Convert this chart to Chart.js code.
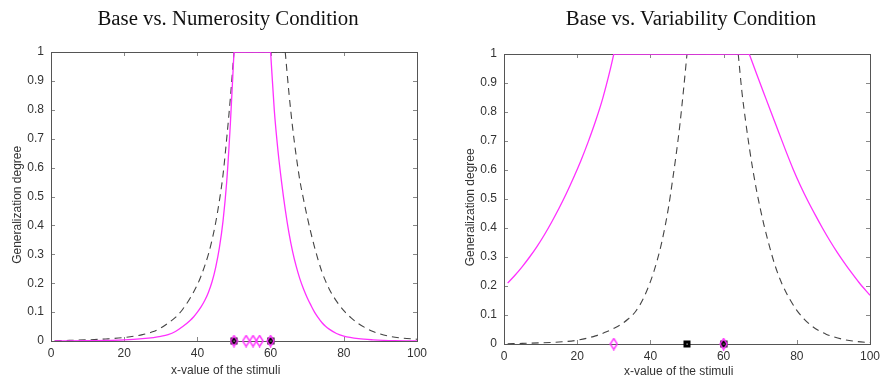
<!DOCTYPE html>
<html>
<head>
<meta charset="utf-8">
<script src="https://cdn.jsdelivr.net/npm/chart.js@4"></script>
<style>
  body { margin: 0; background: #fff; }
  #wrap { position: relative; width: 880px; height: 381px; }
  canvas { position: absolute; top: 0; }
  .title { position: absolute; top: 8px; width: 440px; text-align: center;
           font-family: "Liberation Serif", "Times New Roman", serif; font-size: 20.8px; line-height: 20px; color: #111; }
</style>
</head>
<body>
<div id="wrap">
  <canvas id="numChart" width="440" height="381" style="left:0"></canvas>
  <canvas id="varChart" width="440" height="381" style="left:440px"></canvas>
  <div class="title" style="left:8px">Base vs. Numerosity Condition</div>
  <div class="title" style="left:471px">Base vs. Variability Condition</div>
</div>
<script>
// axis ticks
var xTicks = [0, 20, 40, 60, 80, 100];
var yTicks = [0, 0.1, 0.2, 0.3, 0.4, 0.5, 0.6, 0.7, 0.8, 0.9, 1];
var yTickLabels = ['0', '0.1', '0.2', '0.3', '0.4', '0.5', '0.6', '0.7', '0.8', '0.9', '1'];

// left panel: base (dashed) vs numerosity (magenta)
var baseX = [1, 5, 10, 15, 20, 25, 28, 30, 32, 34, 36, 38, 40, 41, 42, 43, 44, 45, 46, 47, 48, 49, 50,
             64, 65, 66, 67, 68, 69, 70, 71, 72, 73, 74, 75, 76, 78, 80, 82, 84, 86, 88, 90, 93, 96, 100];
var baseY = [0.001, 0.002, 0.004, 0.007, 0.012, 0.022, 0.033, 0.045, 0.062, 0.082, 0.11, 0.148, 0.195, 0.225, 0.26, 0.3, 0.35, 0.41, 0.485, 0.575, 0.7, 0.84, 1,
             1, 0.86, 0.74, 0.64, 0.555, 0.49, 0.43, 0.375, 0.325, 0.28, 0.24, 0.208, 0.18, 0.138, 0.105, 0.08, 0.06, 0.045, 0.033, 0.024, 0.015, 0.01, 0.006];
var numX = [1, 10, 20, 25, 28, 30, 32, 34, 36, 38, 39, 40, 41, 42, 43, 44, 45, 46, 47, 48, 49, 50,
            60, 61, 62, 63, 64, 65, 66, 67, 68, 69, 70, 71, 72, 73, 74, 75, 76, 78, 80, 84, 88, 94, 100];
var numY = [0, 0.001, 0.004, 0.008, 0.012, 0.016, 0.022, 0.033, 0.05, 0.071, 0.084, 0.1, 0.118, 0.14, 0.168, 0.205, 0.255, 0.322, 0.415, 0.55, 0.75, 1,
            1, 0.8, 0.66, 0.55, 0.455, 0.375, 0.31, 0.258, 0.215, 0.18, 0.15, 0.124, 0.1, 0.081, 0.064, 0.051, 0.041, 0.026, 0.017, 0.008, 0.004, 0.001, 0];
var baseStimLeft = [50, 60];
var numStim = [50, 53.3, 55.2, 57, 60];

// right panel: base (dashed) vs variability (magenta)
var base2X = [1, 5, 10, 15, 20, 25, 28, 30, 32, 34, 36, 38, 40, 41, 42, 43, 44, 45, 46, 47, 48, 49, 50,
              64, 65, 66, 67, 68, 69, 70, 71, 72, 73, 74, 75, 76, 78, 80, 82, 84, 86, 88, 90, 93, 96, 100];
var base2Y = [0.001, 0.002, 0.004, 0.007, 0.013, 0.028, 0.042, 0.054, 0.068, 0.087, 0.113, 0.155, 0.215, 0.252, 0.295, 0.345, 0.405, 0.475, 0.56, 0.65, 0.75, 0.87, 1,
              1, 0.87, 0.77, 0.68, 0.6, 0.53, 0.468, 0.412, 0.362, 0.315, 0.273, 0.237, 0.206, 0.156, 0.116, 0.086, 0.063, 0.046, 0.034, 0.025, 0.015, 0.009, 0.005];
var varX = [1, 3, 5, 7, 9, 11, 13, 15, 17, 19, 21, 23, 25, 27, 29, 30,
            67, 69, 71, 73, 75, 77, 79, 81, 83, 85, 87, 89, 91, 93, 95, 97, 100];
var varY = [0.21, 0.237, 0.267, 0.3, 0.336, 0.376, 0.42, 0.467, 0.518, 0.573, 0.632, 0.697, 0.768, 0.848, 0.945, 1,
            1, 0.932, 0.865, 0.798, 0.732, 0.666, 0.603, 0.546, 0.494, 0.446, 0.4, 0.357, 0.317, 0.28, 0.245, 0.212, 0.168];
var baseStimRight = [50, 60];
var varStim = [30, 60];

var MAGENTA = '#ff30ff';
var DASH = '#444444';

function onAxis(xs) {
    return xs.map(function(v) { return { x: v, y: 0 }; });
}

// split a curve into rising flank, flat top and falling flank so the
// smoothing does not round off the corners of the plateau
function splitCurve(xs, ys) {
    var first = ys.indexOf(1), last = ys.lastIndexOf(1);
    var p = xs.map(function(v, i) { return { x: v, y: ys[i] }; });
    return [p.slice(0, first + 1), [p[first], p[last]], p.slice(last)];
}

// point markers drawn on small canvases
function diamondMark() {
    var c = document.createElement('canvas');
    c.width = 9; c.height = 13;
    var g = c.getContext('2d');
    g.strokeStyle = MAGENTA;
    g.lineWidth = 1.4;
    g.beginPath();
    g.moveTo(4.5, 1); g.lineTo(8, 6.5); g.lineTo(4.5, 12); g.lineTo(1, 6.5); g.closePath();
    g.stroke();
    return c;
}
function squareMark() {
    var c = document.createElement('canvas');
    c.width = 8; c.height = 8;
    var g = c.getContext('2d');
    g.fillStyle = '#000';
    g.fillRect(0.5, 0.5, 7, 7);
    g.fillStyle = '#ccc';
    g.fillRect(3.5, 3.5, 1.2, 1.2);
    return c;
}
var diamondImg = diamondMark();
var squareImg = squareMark();

var framePlugin = {
    id: 'frame',
    beforeDatasetsDraw: function(chart) {
        var ctx = chart.ctx, a = chart.chartArea;
        var xs = chart.scales.x, ys = chart.scales.y;
        ctx.save();
        ctx.strokeStyle = '#888';
        ctx.lineWidth = 1;
        ctx.beginPath();
        xs.ticks.forEach(function(t) {
            var px = Math.round(xs.getPixelForValue(t.value)) + 0.5;
            ctx.moveTo(px, a.bottom); ctx.lineTo(px, a.bottom - 4);
            ctx.moveTo(px, a.top); ctx.lineTo(px, a.top + 4);
        });
        ys.ticks.forEach(function(t) {
            var py = Math.round(ys.getPixelForValue(t.value)) + 0.5;
            ctx.moveTo(a.left, py); ctx.lineTo(a.left + 4, py);
            ctx.moveTo(a.right, py); ctx.lineTo(a.right - 4, py);
        });
        ctx.stroke();
        ctx.strokeStyle = '#555';
        ctx.strokeRect(a.left + 0.5, a.top + 0.5, a.right - a.left, a.bottom - a.top);
        ctx.restore();
    }
};

function lineSets(parts, style, order) {
    return parts.map(function(d) {
        return Object.assign({ data: d, pointRadius: 0, fill: false, order: order,
                               cubicInterpolationMode: 'monotone' }, style);
    });
}

// trailing spaces nudge the axis titles off-centre like in the original
var xTitle = 'x-value of the stimuli     ';
var yTitle = 'Generalization degree     ';

function makeChart(id, lay, solid, dashed, squares, diamonds) {
    var tickFont = { family: '"Liberation Sans", Arial, sans-serif', size: 12 };
    var datasets = [
        { data: onAxis(diamonds), pointStyle: diamondImg, pointRadius: 5, showLine: false, clip: false, order: 1 },
        { data: onAxis(squares), pointStyle: squareImg, pointRadius: 5, showLine: false, clip: false, order: 2 }
    ];
    datasets = datasets
        .concat(lineSets(solid, { borderColor: MAGENTA, borderWidth: 1.3 }, 5))
        .concat(lineSets(dashed, { borderColor: DASH, borderWidth: 1.1, borderDash: [7, 5] }, 6));
    return new Chart(document.getElementById(id), {
        type: 'line',
        data: { datasets: datasets },
        plugins: [framePlugin],
        options: {
            responsive: false,
            animation: false,
            events: [],
            layout: { padding: { top: lay.top, right: lay.right, left: 0, bottom: 0 } },
            plugins: { legend: { display: false }, tooltip: { enabled: false } },
            scales: {
                x: {
                    type: 'linear', min: 0, max: 100,
                    afterBuildTicks: function(s) { s.ticks = xTicks.map(function(v) { return { value: v }; }); },
                    afterFit: function(s) { s.height = lay.xh; s.paddingRight = 0; },
                    grid: { display: false, drawTicks: false },
                    border: { display: false },
                    ticks: { padding: 5, color: '#333', font: tickFont, maxRotation: 0 },
                    title: { display: true, text: xTitle, color: '#333', font: tickFont,
                             padding: { top: 0, bottom: lay.xtp } }
                },
                y: {
                    type: 'linear', min: 0, max: 1,
                    afterBuildTicks: function(s) { s.ticks = yTicks.map(function(v) { return { value: v }; }); },
                    afterFit: function(s) { s.width = lay.yw; },
                    grid: { display: false, drawTicks: false },
                    border: { display: false },
                    ticks: { padding: 7, color: '#333', font: tickFont,
                             callback: function(v, i) { return yTickLabels[i]; } },
                    title: { display: true, text: yTitle, color: '#333', font: tickFont,
                             padding: { top: lay.ytp, bottom: 0 } }
                }
            }
        }
    });
}

makeChart('numChart', { top: 52, right: 23, xh: 40, yw: 51, xtp: 3.5, ytp: 10 },
    splitCurve(numX, numY), splitCurve(baseX, baseY), baseStimLeft, numStim);
makeChart('varChart', { top: 54, right: 10, xh: 37, yw: 64, xtp: 2, ytp: 23 },
    splitCurve(varX, varY), splitCurve(base2X, base2Y), baseStimRight, varStim);
</script>
</body>
</html>
